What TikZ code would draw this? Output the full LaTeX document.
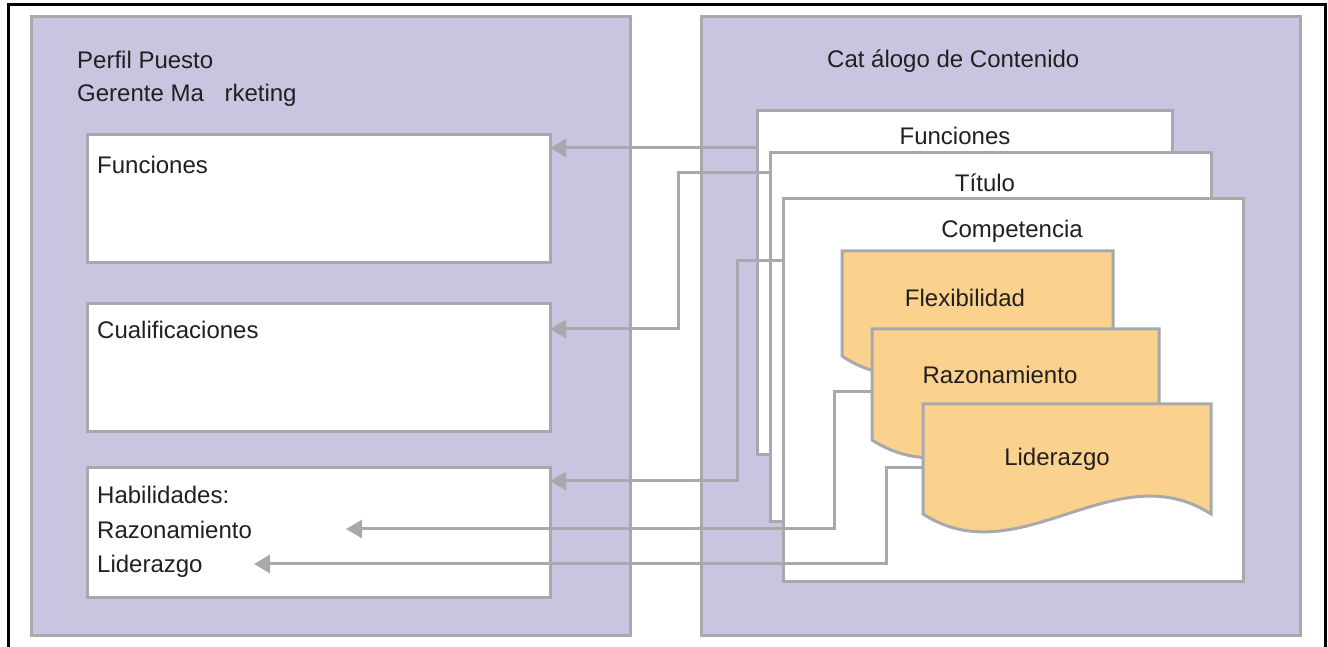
\documentclass[tikz,border=0pt]{standalone}
\usepackage{fontspec}
\setmainfont{Liberation Sans}
\usetikzlibrary{arrows.meta,calc}
\definecolor{panelfill}{HTML}{C8C5E1}
\definecolor{edgegray}{HTML}{A8A9AD}
\definecolor{notefill}{HTML}{FAD28D}
\definecolor{inktext}{HTML}{231F20}

% wavy-bottomed document outline drawn on the bounds of an invisible node
\newcommand\wavedoc[1]{%
  \filldraw[noteedge] (#1.south west) -- (#1.north west) -- (#1.north east) -- (#1.south east)
    .. controls ($(#1.south east)!1/3!(#1.south west)+(0,62)$)
       and ($(#1.south east)!2/3!(#1.south west)+(0,-62)$) .. (#1.south west) -- cycle;}

\begin{document}
\begin{tikzpicture}[x=1pt,y=1pt,
  every node/.style={font=\fontsize{24}{28}\selectfont, text=inktext},
  panel/.style={draw=edgegray, fill=panelfill, line width=3pt, rectangle,
    inner sep=0pt, outer sep=0pt, anchor=south west},
  whitebox/.style={draw=edgegray, fill=white, line width=3pt, rectangle,
    inner sep=0pt, outer sep=0pt, anchor=south west},
  notebounds/.style={rectangle, inner sep=0pt, outer sep=0pt, anchor=south west},
  noteedge/.style={draw=edgegray, fill=notefill, line width=3pt, line join=miter},
  lbl/.style={inner sep=0pt, anchor=base west},
  clbl/.style={inner sep=0pt, anchor=base},
  conn/.style={draw=edgegray, line width=3pt, -{Triangle[length=16pt,width=18pt]}}
]
\useasboundingbox (0,0) rectangle (1328,647);

% outer frame
\draw[black, line width=3pt] (8,-20) -- (8,642) -- (1325,642) -- (1325,-20);

% the two panels
\node[panel, minimum width=599, minimum height=619] (profile) at (31,11) {};
\node[panel, minimum width=599, minimum height=619] (catalog) at (701,11) {};

\node[lbl] (profTitle) at (77,578) {Perfil Puesto};
\node[lbl] (profName) at (77,545) {Gerente Ma\hspace{14pt} rketing};
\node[lbl] (catTitle) at (827,579) {Cat álogo de Contenido};

% profile sections
\node[whitebox, minimum width=463, minimum height=128] (boxFun) at (87,384) {};
\node[whitebox, minimum width=463, minimum height=128] (boxCual) at (87,215) {};
\node[whitebox, minimum width=463, minimum height=130] (boxHab) at (87,49) {};

\node[lbl] (funLbl) at (97,473) {Funciones};
\node[lbl] (cualLbl) at (97,308) {Cualificaciones};
\node[lbl] (habLbl) at (97,143) {Habilidades:};
\node[lbl] (habRaz) at (97,108) {Razonamiento};
\node[lbl] (habLid) at (97,74) {Liderazgo};

% catalogue pages
\node[whitebox, minimum width=415, minimum height=344] (docFun) at (757,192) {};
\node[clbl] at (955,502) {Funciones};
\node[whitebox, minimum width=441, minimum height=369] (docTit) at (770,125) {};
\node[clbl] at (985,455) {Título};
\node[whitebox, minimum width=460, minimum height=383] (docComp) at (783,65) {};
\node[clbl] at (1012,409) {Competencia};

% competence sheets
\node[notebounds, minimum width=271, minimum height=105] (docFlex) at (842,291) {};
\wavedoc{docFlex}
\node[clbl] at (965,340) {Flexibilidad};
\node[notebounds, minimum width=287, minimum height=111] (docRaz) at (872,207) {};
\wavedoc{docRaz}
\node[clbl] at (1000,263) {Razonamiento};
\node[notebounds, minimum width=288, minimum height=110] (docLid) at (923,133) {};
\wavedoc{docLid}
\node[clbl] at (1057,181) {Liderazgo};

% free arrow ends beside the skill names
\coordinate (razTip) at (346,118);
\coordinate (lidTip) at (254,83);

% connectors
\draw[conn] ([yshift=-37pt]docFun.north west) -- ([yshift=-13pt]boxFun.north east);
\draw[conn] ([yshift=-20pt]docTit.north west) -- ++(-92,0) |- ([yshift=-25pt]boxCual.north east);
\draw[conn] ([yshift=-62pt]docComp.north west) -- ++(-46,0) |- ([yshift=-13pt]boxHab.north east);
\draw[conn] ([yshift=-63pt]docRaz.north west) -- ++(-38,0) |- (razTip);
\draw[conn] ([yshift=-64pt]docLid.north west) -- ++(-37,0) |- (lidTip);
\end{tikzpicture}
\end{document}
